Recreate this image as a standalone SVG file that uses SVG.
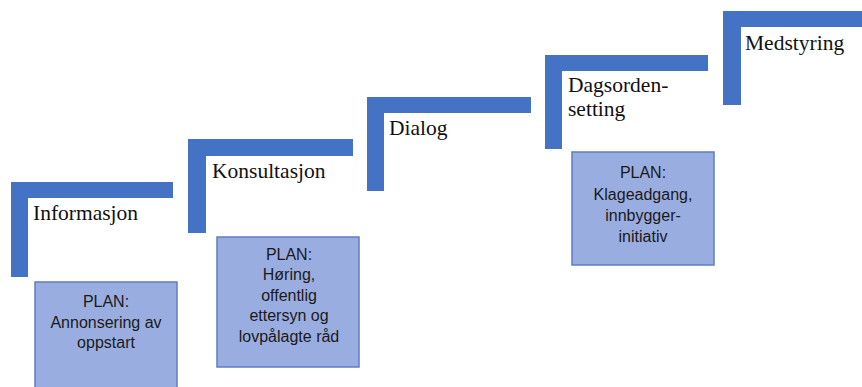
<svg xmlns="http://www.w3.org/2000/svg" width="862" height="387" viewBox="0 0 862 387">
<style>
.bar{fill:#4472c4}
.box{fill:#9aade0;stroke:#5f7cc4;stroke-width:1.5}
.step{font-family:"Liberation Serif","Times New Roman",serif;font-size:21.5px;fill:#111111}
.plan{font-family:"Liberation Sans",Arial,sans-serif;font-size:16px;fill:#1a1a1a;text-anchor:middle}
</style>
<rect width="862" height="387" fill="#ffffff"/>
<g id="connectors"/>
<g id="step-informasjon">
<rect class="bar" x="11" y="182" width="162" height="16"/>
<rect class="bar" x="11" y="182" width="17" height="95"/>
<text class="step" x="33" y="220">Informasjon</text>
</g>
<g id="step-konsultasjon">
<rect class="bar" x="188" y="139" width="165" height="17"/>
<rect class="bar" x="188" y="139" width="18" height="94"/>
<text class="step" x="212" y="178">Konsultasjon</text>
</g>
<g id="step-dialog">
<rect class="bar" x="367" y="97" width="164" height="16"/>
<rect class="bar" x="367" y="97" width="17" height="94"/>
<text class="step" x="389" y="135">Dialog</text>
</g>
<g id="step-dagsordensetting">
<rect class="bar" x="545" y="55" width="163" height="16"/>
<rect class="bar" x="545" y="55" width="17" height="94"/>
<text class="step" x="568" y="92">Dagsorden-</text>
<text class="step" x="568" y="116">setting</text>
</g>
<g id="step-medstyring">
<rect class="bar" x="723" y="11" width="139" height="16"/>
<rect class="bar" x="723" y="11" width="18" height="94"/>
<text class="step" x="745" y="50">Medstyring</text>
</g>
<g id="plan-1">
<rect class="box" x="35" y="282" width="142" height="106"/>
<text class="plan" x="106" y="307">PLAN:</text>
<text class="plan" x="106" y="328">Annonsering av</text>
<text class="plan" x="106" y="348">oppstart</text>
</g>
<g id="plan-2">
<rect class="box" x="217" y="237" width="142" height="130"/>
<text class="plan" x="289" y="260">PLAN:</text>
<text class="plan" x="289" y="280">Høring,</text>
<text class="plan" x="289" y="301">offentlig</text>
<text class="plan" x="289" y="321">ettersyn og</text>
<text class="plan" x="289" y="342">lovpålagte råd</text>
</g>
<g id="plan-3">
<rect class="box" x="572" y="152" width="142" height="113"/>
<text class="plan" x="643" y="178">PLAN:</text>
<text class="plan" x="643" y="200">Klageadgang,</text>
<text class="plan" x="643" y="221">innbygger-</text>
<text class="plan" x="643" y="242">initiativ</text>
</g>
</svg>
